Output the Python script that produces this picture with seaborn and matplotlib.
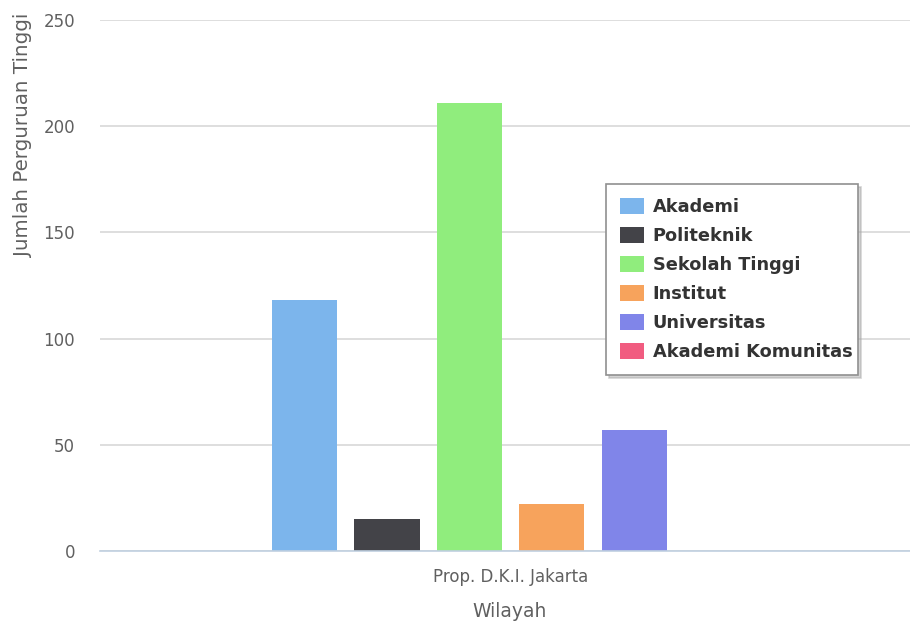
import matplotlib
matplotlib.use("Agg")
import matplotlib.pyplot as plt
import seaborn as sns
import pandas as pd
from matplotlib.patches import Patch

region = ["Prop. D.K.I. Jakarta"]
jenis = ["Akademi", "Politeknik", "Sekolah Tinggi", "Institut", "Universitas", "Akademi Komunitas"]
jumlah = [118, 15, 211, 22, 57, 0]
colors = ["#7cb5ec", "#434348", "#90ed7d", "#f7a35c", "#8085e9", "#f15c80"]
yticks = [0, 50, 100, 150, 200, 250]

df = pd.DataFrame({"Wilayah": region * len(jenis), "Jenis": jenis, "Jumlah": jumlah})

sns.set_theme(style="white")
plt.rcParams["font.family"] = ["DejaVu Sans"]

fig = plt.figure(figsize=(9.10, 6.22), dpi=100)
ax = fig.add_axes([100 / 910, 1 - 551 / 622, 810 / 910, 531 / 622])

sns.barplot(data=df, x="Wilayah", y="Jumlah", hue="Jenis", hue_order=jenis,
            palette=colors, width=0.61, gap=0.207, saturation=1, ax=ax,
            legend=False, errorbar=None, linewidth=0, edgecolor="none")

ax.set_xlim(-0.507, 0.493)
ax.set_ylim(0, 250)
ax.set_yticks(yticks)
ax.yaxis.grid(True, color="#d8d8d8", linewidth=1.2)
ax.set_axisbelow(True)
for s in ["left", "right", "top"]:
    ax.spines[s].set_visible(False)
ax.spines["bottom"].set_color("#c0d0e0")
ax.spines["bottom"].set_linewidth(1.2)
ax.tick_params(axis="y", length=0, pad=18, labelsize=12, labelcolor="#606060")
ax.tick_params(axis="x", length=0, pad=12, labelsize=12, labelcolor="#606060")
ax.set_xlabel("Wilayah", fontsize=13.5, color="#606060")
ax.xaxis.set_label_coords(0.506, -0.113)
ax.xaxis.label.set_verticalalignment("center")
ax.set_ylabel("Jumlah Perguruan Tinggi", fontsize=14.3, color="#606060")
ax.yaxis.set_label_coords(-0.083, 1.012)
ax.yaxis.label.set_horizontalalignment("right")

handles = [Patch(facecolor=c, edgecolor="none") for c in colors]
leg = fig.legend(handles, jenis, loc="upper left",
                 bbox_to_anchor=(606 / 910, 1 - 375 / 622, 252 / 910, 191 / 622),
                 bbox_transform=fig.transFigure, borderaxespad=0, frameon=True,
                 mode="expand",
                 prop={"weight": "bold", "size": 12.8}, labelcolor="#333333",
                 handlelength=1.35, handleheight=1.0, handletextpad=0.5,
                 labelspacing=0.62, borderpad=0.78, fancybox=False,
                 shadow={"ox": 2, "oy": -2, "color": "#aaaaaa", "alpha": 0.5})
leg.get_frame().set_edgecolor("#909090")
leg.get_frame().set_linewidth(1.2)

fig.savefig("out.png", dpi=100, facecolor="white")
